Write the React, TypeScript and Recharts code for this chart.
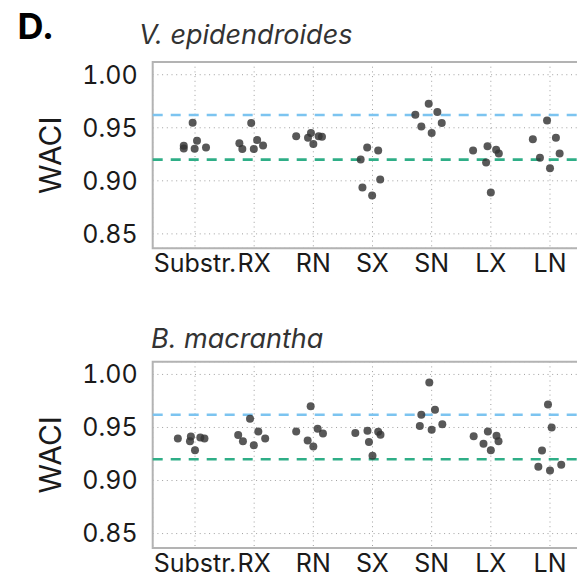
import React from "react";
import {
  CartesianGrid,
  ReferenceArea,
  ReferenceLine,
  Scatter,
  ScatterChart,
  XAxis,
  YAxis,
} from "recharts";

const categories = ["Substr.", "RX", "RN", "SX", "SN", "LX", "LN"];
const yTicks = [0.85, 0.9, 0.95, 1.0];

// V. epidendroides, six samples per category
const vEpiWaci = [
  [0.9547, 0.933, 0.9305, 0.9377, 0.9302, 0.9314],
  [0.9544, 0.9355, 0.9299, 0.9384, 0.9299, 0.9333],
  [0.9421, 0.9406, 0.945, 0.9346, 0.9421, 0.9415],
  [0.9201, 0.9314, 0.9285, 0.9013, 0.8937, 0.8862],
  [0.9623, 0.9726, 0.9648, 0.9513, 0.9544, 0.945],
  [0.9286, 0.9327, 0.9292, 0.9258, 0.9173, 0.889],
  [0.9393, 0.9569, 0.9406, 0.9217, 0.9258, 0.9119],
];
const vEpiJitter = [
  [-0.04, -0.19, -0.19, 0.034, -0.006, 0.186],
  [-0.05, -0.25, -0.2, 0.05, -0.006, 0.15],
  [-0.29, -0.09, -0.04, 0.0, 0.09, 0.146],
  [-0.2, -0.09, 0.096, 0.13, -0.17, -0.006],
  [-0.276, -0.05, 0.096, -0.175, 0.17, 0.0],
  [-0.3, -0.056, 0.09, 0.135, -0.08, 0.0],
  [-0.29, -0.05, 0.1, -0.17, 0.163, 0.0],
];

// B. macrantha
const bMacWaci = [
  [0.9396, 0.9415, 0.9371, 0.9406, 0.9396, 0.9286],
  [0.9582, 0.9428, 0.9371, 0.9462, 0.9333, 0.9396],
  [0.9701, 0.9462, 0.9487, 0.9443, 0.9377, 0.9321],
  [0.9447, 0.9469, 0.9459, 0.9431, 0.9362, 0.9233],
  [0.9925, 0.9619, 0.9667, 0.9513, 0.9531, 0.9478],
  [0.9418, 0.9462, 0.9421, 0.9371, 0.9346, 0.9286],
  [0.9717, 0.95, 0.9283, 0.9129, 0.9094, 0.9148],
];
const bMacJitter = [
  [-0.29, -0.07, -0.085, 0.09, 0.16, 0.0],
  [-0.07, -0.27, -0.19, 0.07, -0.006, 0.186],
  [-0.045, -0.29, 0.073, 0.163, -0.096, 0.0],
  [-0.29, -0.085, 0.096, 0.135, -0.06, 0.0],
  [-0.04, -0.175, 0.056, -0.2, 0.18, 0.0],
  [-0.29, -0.05, 0.096, 0.13, -0.124, 0.0],
  [-0.034, 0.028, -0.135, -0.197, 0.0, 0.19],
];

const upperRef = 0.962;
const lowerRef = 0.92;

const X_MIN = -0.715;
const X_MAX = 6.715;
const Y_MIN = 0.8364;
const Y_MAX = 1.012;

const FONT = "Inter, 'Noto Sans', sans-serif";
const INK = "#1a1a1a";

const toPoints = (vals: number[][], jit: number[][]) =>
  categories.flatMap((_, i) => vals[i].map((v, j) => ({ x: i + jit[i][j], y: v })));

const Dot = (props: any) => (
  <circle cx={props.cx} cy={props.cy} r={4} fill="#333" fillOpacity={0.82} />
);

const Panel = ({
  data,
  height,
  top,
  xAxisHeight,
}: {
  data: { x: number; y: number }[];
  height: number;
  top: number;
  xAxisHeight: number;
}) => {
  const plotBottom = top + 186.3;
  return (
    <ScatterChart
      width={610}
      height={height}
      margin={{ top, right: 17.7, left: 20.7, bottom: height - plotBottom - xAxisHeight }}
    >
      <CartesianGrid stroke="#a0a0a0" strokeDasharray="1 3.7" strokeWidth={1} />
      <XAxis
        type="number"
        dataKey="x"
        domain={[X_MIN, X_MAX]}
        ticks={[0, 1, 2, 3, 4, 5, 6]}
        tickFormatter={(i: number) => categories[i]}
        interval={0}
        allowDataOverflow
        axisLine={false}
        tickLine={false}
        tickSize={0}
        tickMargin={6}
        height={xAxisHeight}
        tick={{ fontSize: 25, fill: INK, fontFamily: FONT }}
      />
      <YAxis
        type="number"
        dataKey="y"
        domain={[Y_MIN, Y_MAX]}
        ticks={yTicks}
        tickFormatter={(v: number) => v.toFixed(2)}
        allowDataOverflow
        axisLine={false}
        tickLine={false}
        tickSize={0}
        tickMargin={15}
        width={132}
        tick={{
          fontSize: 25,
          fill: INK,
          fontFamily: FONT,
          style: { fontVariantNumeric: "tabular-nums" },
        }}
        label={{
          value: "WACI",
          angle: -90,
          position: "insideLeft",
          offset: 29.3,
          style: { textAnchor: "middle", fontSize: 30, fill: INK, fontFamily: FONT },
        }}
      />
      <ReferenceLine y={upperRef} stroke="#7cc4f0" strokeWidth={2.6} strokeDasharray="10 8" />
      <ReferenceLine y={lowerRef} stroke="#2fae87" strokeWidth={2.6} strokeDasharray="10 8" />
      <Scatter data={data} shape={Dot} isAnimationActive={false} />
      <ReferenceArea
        x1={X_MIN}
        x2={X_MAX}
        y1={Y_MIN}
        y2={Y_MAX}
        fill="none"
        fillOpacity={0}
        stroke="#b3b3b3"
        strokeWidth={2}
      />
    </ScatterChart>
  );
};

const App = () => {
  const vEpi = toPoints(vEpiWaci, vEpiJitter);
  const bMac = toPoints(bMacWaci, bMacJitter);
  return (
    <div
      style={{
        position: "fixed",
        left: 0,
        top: 0,
        width: 577,
        height: 586,
        overflow: "hidden",
        background: "#fff",
        fontFamily: FONT,
      }}
    >
      <div style={{ position: "absolute", left: 0, top: 0 }}>
        <Panel data={vEpi} height={305} top={62} xAxisHeight={40} />
      </div>
      <div style={{ position: "absolute", left: 0, top: 305 }}>
        <Panel data={bMac} height={281} top={56.7} xAxisHeight={30} />
      </div>
      <svg
        width={577}
        height={586}
        style={{ position: "absolute", left: 0, top: 0, pointerEvents: "none" }}
      >
        <text x={17.5} y={38.5} fontSize={36} fontWeight={700} fill="#000" fontFamily={FONT}>
          D.
        </text>
        <text x={139} y={43.5} fontSize={27} fontStyle="italic" fill="#333" fontFamily={FONT}>
          V. epidendroides
        </text>
        <text x={151} y={348.3} fontSize={27} fontStyle="italic" fill="#333" fontFamily={FONT}>
          B. macrantha
        </text>
      </svg>
    </div>
  );
};

export default App;
